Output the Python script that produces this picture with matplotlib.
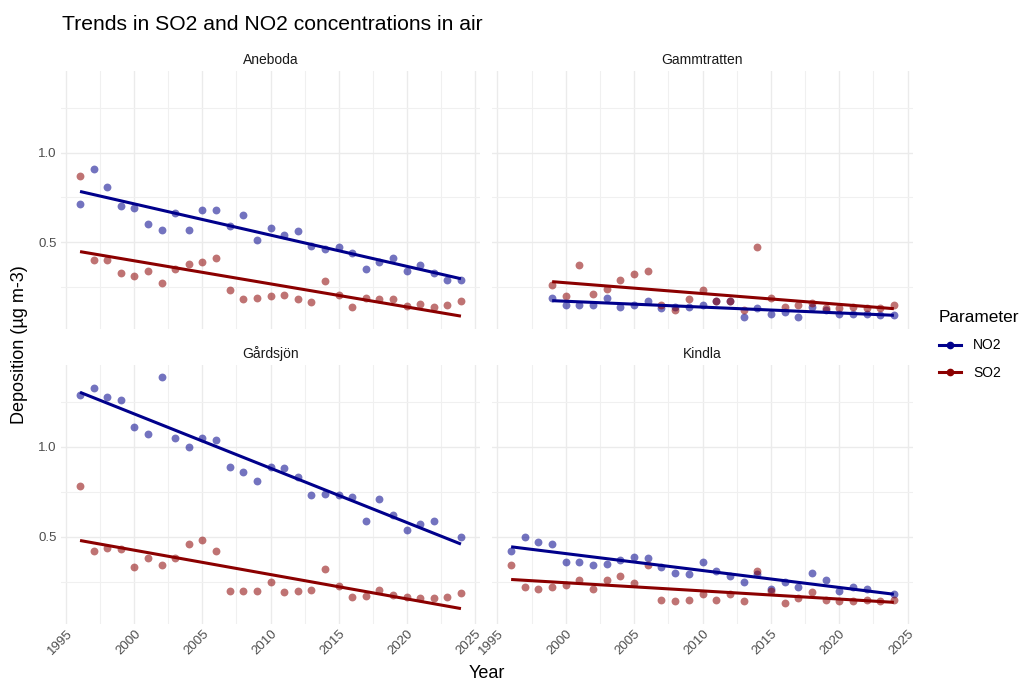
import matplotlib.pyplot as plt
import numpy as np
from matplotlib.lines import Line2D
from matplotlib.ticker import MultipleLocator

plt.rcParams['font.family'] = ['Liberation Sans', 'DejaVu Sans']

# annual means per station, µg m-3 (None = no measurement)
years_full = list(range(1996, 2025))
years_gamm = list(range(1999, 2025))

aneboda_no2 = [0.71, 0.91, 0.81, 0.70, 0.69, 0.60, 0.57, 0.66, 0.57, 0.68, 0.68, 0.59, 0.65, 0.51, 0.58,
               0.54, 0.56, 0.48, 0.46, 0.47, 0.44, 0.35, 0.39, 0.41, 0.34, 0.37, 0.33, 0.29, 0.29]
aneboda_so2 = [0.87, 0.40, 0.40, 0.33, 0.31, 0.34, 0.27, 0.35, 0.38, 0.39, 0.41, 0.23, 0.18, 0.19, 0.20,
               0.205, 0.18, 0.165, 0.28, 0.205, 0.135, 0.19, 0.18, 0.18, 0.145, 0.155, 0.14, 0.15, 0.17]

gamm_no2 = [0.19, 0.15, 0.15, 0.15, 0.19, 0.14, 0.15, 0.17, 0.13, 0.14, 0.14, 0.15, 0.17,
            0.17, 0.08, 0.13, 0.10, 0.11, 0.08, 0.14, 0.12, 0.10, 0.10, 0.10, 0.09, 0.09]
gamm_so2 = [0.26, 0.20, 0.37, 0.21, 0.24, 0.29, 0.32, 0.34, 0.15, 0.12, 0.18, 0.23, 0.17,
            0.17, 0.12, 0.47, 0.19, 0.14, 0.15, 0.16, 0.13, 0.13, 0.14, 0.13, 0.13, 0.15]

gardsjon_no2 = [1.29, 1.33, 1.28, 1.26, 1.11, 1.07, 1.39, 1.05, 1.00, 1.05, 1.04, 0.89, 0.86, 0.81, 0.89,
                0.88, 0.83, 0.73, 0.74, 0.73, 0.72, 0.59, 0.71, 0.62, 0.54, 0.57, 0.59, None, 0.50]
gardsjon_so2 = [0.78, 0.42, 0.44, 0.43, 0.33, 0.38, 0.34, 0.38, 0.46, 0.48, 0.42, 0.20, 0.20, 0.20, 0.25,
                0.19, 0.20, 0.205, 0.32, 0.225, 0.165, 0.17, 0.205, 0.175, 0.165, 0.16, 0.16, 0.165, 0.185]

kindla_no2 = [0.42, 0.50, 0.47, 0.46, 0.36, 0.36, 0.34, 0.35, 0.37, 0.39, 0.38, 0.33, 0.30, 0.29, 0.36,
              0.31, 0.28, 0.25, 0.29, 0.21, 0.25, 0.22, 0.30, 0.26, 0.20, 0.22, 0.21, None, 0.18]
kindla_so2 = [0.34, 0.22, 0.21, 0.22, 0.23, 0.26, 0.21, 0.26, 0.28, 0.24, 0.34, 0.15, 0.14, 0.15, 0.18,
              0.15, 0.18, 0.14, 0.31, 0.20, 0.13, 0.16, 0.19, 0.15, 0.14, 0.14, 0.15, 0.14, 0.15]

stations = ["Aneboda", "Gammtratten", "Gårdsjön", "Kindla"]
station_years = [years_full, years_gamm, years_full, years_full]
station_no2 = [aneboda_no2, gamm_no2, gardsjon_no2, kindla_no2]
station_so2 = [aneboda_so2, gamm_so2, gardsjon_so2, kindla_so2]

colors = {"NO2": "#00008B", "SO2": "#8B0000"}

W, H = 1022, 681
fig = plt.figure(figsize=(W / 100, H / 100), dpi=100)

def px_axes(x0, y0, x1, y1):
    return fig.add_axes([x0 / W, 1 - y1 / H, (x1 - x0) / W, (y1 - y0) / H])

# shared scales, ggplot-style 5% expansion
all_vals = [v for s in station_no2 + station_so2 for v in s if v is not None]
ymin, ymax = min(all_vals), max(all_vals)
ypad = 0.05 * (ymax - ymin)
xpad = 0.05 * (2024 - 1996)

boxes = [(61, 71, 480, 329), (492, 71, 913, 329),
         (61, 365, 480, 624), (492, 365, 913, 624)]

grey = "#4d4d4d"
for i, name in enumerate(stations):
    ax = px_axes(*boxes[i])
    yrs = np.array(station_years[i], dtype=float)
    for param, vals in (("NO2", station_no2[i]), ("SO2", station_so2[i])):
        v = np.array([np.nan if x is None else x for x in vals], dtype=float)
        ok = ~np.isnan(v)
        ax.scatter(yrs[ok], v[ok], s=32, color=colors[param], alpha=0.55, linewidths=0, zorder=3)
        k, b = np.polyfit(yrs[ok], v[ok], 1)
        xs = np.array([yrs[ok].min(), yrs[ok].max()])
        ax.plot(xs, k * xs + b, color=colors[param], lw=2.2, zorder=4, solid_capstyle='butt')

    ax.set_xlim(1996 - xpad, 2024 + xpad)
    ax.set_ylim(ymin - ypad, ymax + ypad)
    ax.xaxis.set_major_locator(MultipleLocator(5))
    ax.xaxis.set_minor_locator(MultipleLocator(2.5))
    ax.yaxis.set_major_locator(MultipleLocator(0.5))
    ax.yaxis.set_minor_locator(MultipleLocator(0.25))
    ax.grid(which='major', color='#ebebeb', lw=1.0)
    ax.grid(which='minor', color='#f0f0f0', lw=0.8)
    ax.set_axisbelow(True)
    for sp in ax.spines.values():
        sp.set_visible(False)
    ax.tick_params(which='both', length=0, colors=grey, labelsize=9.5, pad=3)
    ax.yaxis.set_major_formatter(plt.FuncFormatter(lambda v, p: f"{v:.1f}"))
    if i < 2:
        ax.set_xticklabels([])
    else:
        for lab in ax.get_xticklabels():
            lab.set_rotation(45)
            lab.set_ha('right')
            lab.set_rotation_mode('anchor')
    if i % 2 == 1:
        ax.set_yticklabels([])
    ax.set_title(name, fontsize=10, color="#1a1a1a", pad=5)

fig.text(62 / W, 1 - 25 / H, "Trends in SO2 and NO2 concentrations in air",
         fontsize=15.2, va='center', ha='left', color='black')
fig.text(20 / W, 1 - 345 / H, "Deposition (µg m-3)", rotation=90, fontsize=13,
         va='center', ha='center')
fig.text(487 / W, 1 - 673 / H, "Year", fontsize=13, va='center', ha='center')

handles = [Line2D([], [], color=colors[p], lw=2.2, marker='o', markersize=4.5) for p in ("NO2", "SO2")]
leg = fig.legend(handles, ["NO2", "SO2"], title="Parameter", loc='upper left',
                 bbox_to_anchor=(926 / W, 1 - 297 / H), frameon=False, fontsize=10,
                 title_fontsize=12.4, handlelength=1.6, labelspacing=1.0, handletextpad=0.9)
leg._legend_box.align = "left"

fig.savefig("out.png", dpi=100, facecolor='white')
